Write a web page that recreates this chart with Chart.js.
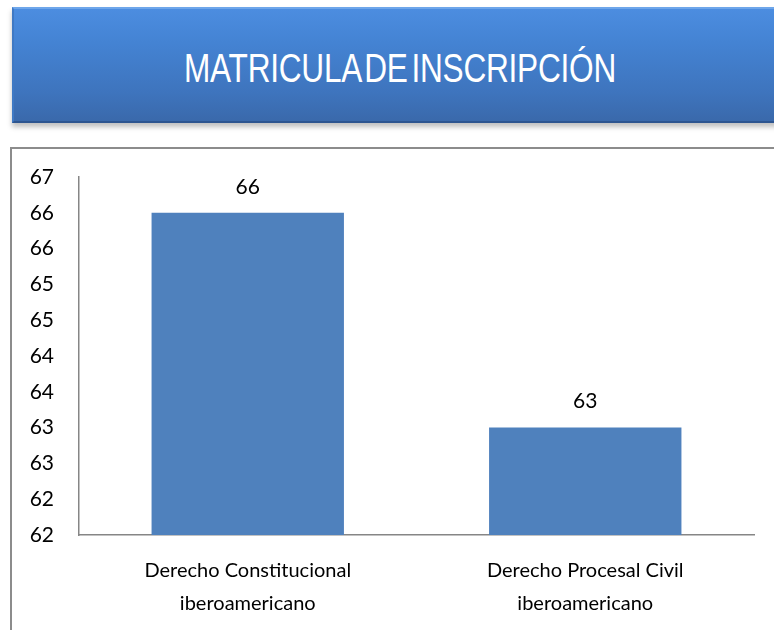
<!DOCTYPE html>
<html>
<head>
<meta charset="utf-8">
<script src="https://cdn.jsdelivr.net/npm/chart.js@4"></script>
<style>
  html,body{margin:0;padding:0;background:#fff;width:774px;height:630px;overflow:hidden;}
  #banner{
    position:absolute;left:12px;top:7px;width:780px;height:112px;
    background:linear-gradient(#4c8de0 0%,#4483d3 30%,#3e74bd 75%,#3a69ab 100%);
    border-top:2px solid #6ea6ea;border-left:2px solid #3f79c4;border-bottom:2px solid #2d5590;
    box-shadow:0 4px 5px rgba(0,0,0,0.25);
  }
  #title{
    position:absolute;left:0;top:48px;width:800px;text-align:center;
    font-family:"Liberation Sans",Arial,sans-serif;
    font-size:40px;color:#fff;line-height:40px;letter-spacing:-0.3px;word-spacing:-6px;
    transform:scaleX(0.79);transform-origin:400px 0;
  }
  #box{
    position:absolute;left:10px;top:147px;width:800px;height:520px;
    border-left:2px solid #8c8c8c;border-top:2px solid #8c8c8c;
  }
  #wrap{position:absolute;left:12px;top:150px;width:762px;height:480px;}
</style>
</head>
<body>
<div id="banner"></div>
<div id="title">MATRICULA DE INSCRIPCIÓN</div>
<div id="box"></div>
<div id="wrap"><canvas id="chart" width="762" height="480"></canvas></div>
<script>
const categories = [["Derecho Constitucional","iberoamericano"],["Derecho Procesal Civil","iberoamericano"]];
const values = [66, 63];
const yMin = 61.5, yMax = 66.5, yStep = 0.5;

const FONT = "Lato, 'Open Sans', sans-serif";

// draws the value above each bar
const barLabels = {
  id:"barLabels",
  afterDatasetsDraw(chart){
    const ctx = chart.ctx;
    const meta = chart.getDatasetMeta(0);
    ctx.save();
    ctx.font = "21px " + FONT;
    ctx.fillStyle = "#000";
    ctx.textAlign = "center";
    ctx.textBaseline = "middle";
    meta.data.forEach((bar,i)=>{
      ctx.fillText(String(values[i]), bar.x, bar.y - 26);
    });
    ctx.restore();
  }
};

new Chart(document.getElementById("chart"),{
  type:"bar",
  data:{
    labels:categories,
    datasets:[{
      data:values,
      backgroundColor:"#4f81bd",
      categoryPercentage:0.57,
      barPercentage:1
    }]
  },
  options:{
    responsive:false,
    animation:false,
    devicePixelRatio:1,
    layout:{padding:{top:27,right:20,left:0,bottom:0}},
    plugins:{legend:{display:false},tooltip:{enabled:false},title:{display:false}},
    scales:{
      x:{
        grid:{display:false,drawTicks:false},
        border:{display:true,color:"#868686",width:1.5},
        ticks:{font:{family:FONT,size:20,lineHeight:1.65},color:"#000",padding:19,maxRotation:0,autoSkip:false},
        afterFit(s){ s.height = 95; s.paddingLeft = 0; s.paddingRight = 0; }
      },
      y:{
        min:yMin,max:yMax,
        grid:{display:false,drawTicks:false},
        border:{display:true,color:"#868686",width:1.5},
        ticks:{
          stepSize:yStep,
          font:{family:FONT,size:21},color:"#000",padding:25,
          callback:v=>Math.round(v)
        },
        afterFit(s){ s.width = 67; s.paddingTop = 0; s.paddingBottom = 0; }
      }
    }
  },
  plugins:[barLabels]
});
</script>
</body>
</html>
